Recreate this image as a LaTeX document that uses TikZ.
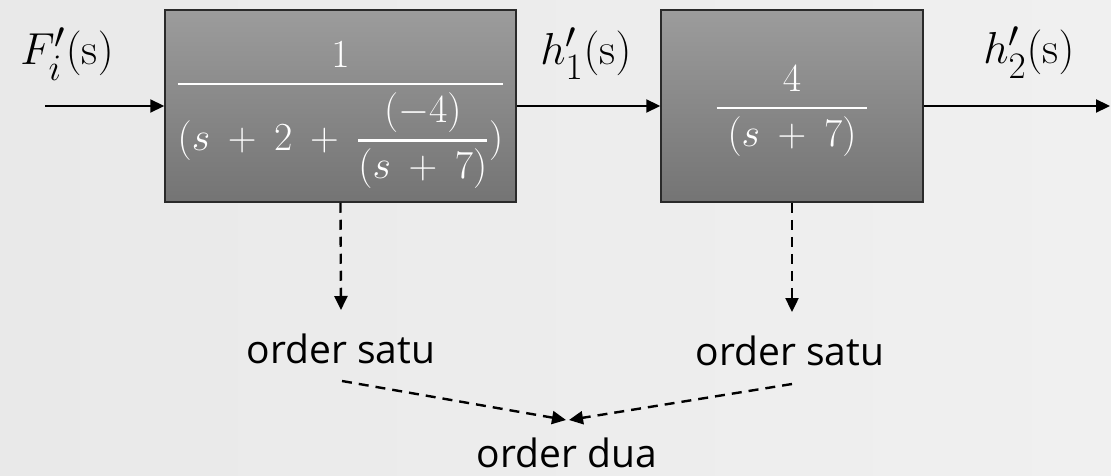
\documentclass[tikz,border=0pt]{standalone}
\usepackage{amsmath}
\usepackage{graphicx}
\usepackage{fontspec}
\setsansfont{Open Sans}
\usetikzlibrary{arrows.meta}
\definecolor{bgc}{HTML}{F0F0F0}
\definecolor{bgl}{HTML}{E9E9E9}
\definecolor{boxtop}{HTML}{9C9C9C}
\definecolor{boxbot}{HTML}{747474}
\definecolor{boxedge}{HTML}{2A2A2A}
\newcommand{\boxmath}[1]{\scalebox{1.6}{$\medmuskip=8mu\displaystyle #1$}}
\newcommand{\lblmath}[1]{\scalebox{1.8}{$#1$}}
\newcommand{\fr}[2]{\genfrac{}{}{1.5pt}{0}{#1}{#2}}
\tikzset{
  blockbox/.style={draw=boxedge, line width=1.5pt, top color=boxtop, bottom color=boxbot,
    minimum height=192pt, inner sep=0pt},
  formula/.style={text=white, inner sep=0pt, font=\fontsize{24.88}{30}\selectfont},
  sig/.style={line width=2.2pt, -{Triangle[length=14pt,width=13pt]}},
  dasharrow/.style={line width=2.4pt, dash pattern=on 10pt off 7pt, -{Triangle[length=14pt,width=13pt]}},
  lbl/.style={font=\fontsize{24.88}{30}\selectfont, inner sep=0pt, anchor=base},
  ordtxt/.style={font=\sffamily\fontsize{39}{46}\selectfont, inner sep=0pt, anchor=base},
}
\begin{document}
\begin{tikzpicture}[x=1pt,y=-1pt]
\shade[left color=bgl, right color=bgc] (0,0) rectangle (1111,476);
\useasboundingbox (0,0) rectangle (1111,476);

\node[blockbox, minimum width=351pt] (b1) at (340.5,106) {};
\node[blockbox, minimum width=262pt] (b2) at (792,106) {};
\node[formula] (f1) at (340.5,115)
  {\boxmath{\fr{1}{(s+2+\fr{(-4)}{(s+7)})}}};
\node[formula] (f2) at (792,111)
  {\boxmath{\fr{\,4\,}{\;(s+7)\;}}};

\coordinate (in) at (45,106);
\coordinate (out) at (1110,106);

\node[lbl] (fin) at (67,65) {\lblmath{F_i'(\mathrm{s})}};
\node[lbl] (h1) at (586,65) {\lblmath{h_1'(\mathrm{s})}};
\node[lbl] (h2) at (1029,64) {\lblmath{h_2'(\mathrm{s})}};

\draw[sig] (in) -- (b1.west);
\draw[sig] (b1.east) -- (b2.west);
\draw[sig] (b2.east) -- (out);

\node[ordtxt] (os1) at (341,363) {order satu};
\node[ordtxt] (os2) at (790,365) {order satu};
\node[ordtxt] (od) at (567,467) {order dua};

\coordinate (t1) at (341,310);
\coordinate (t2) at (792,312);
\coordinate (s1) at (342,381);
\coordinate (s2) at (792,384);
\coordinate (m1) at (566,420);
\coordinate (m2) at (569,420);

\draw[dasharrow] (b1.south) -- (t1);
\draw[dasharrow] (b2.south) -- (t2);
\draw[dasharrow] (s1) -- (m1);
\draw[dasharrow] (s2) -- (m2);
\end{tikzpicture}
\end{document}
